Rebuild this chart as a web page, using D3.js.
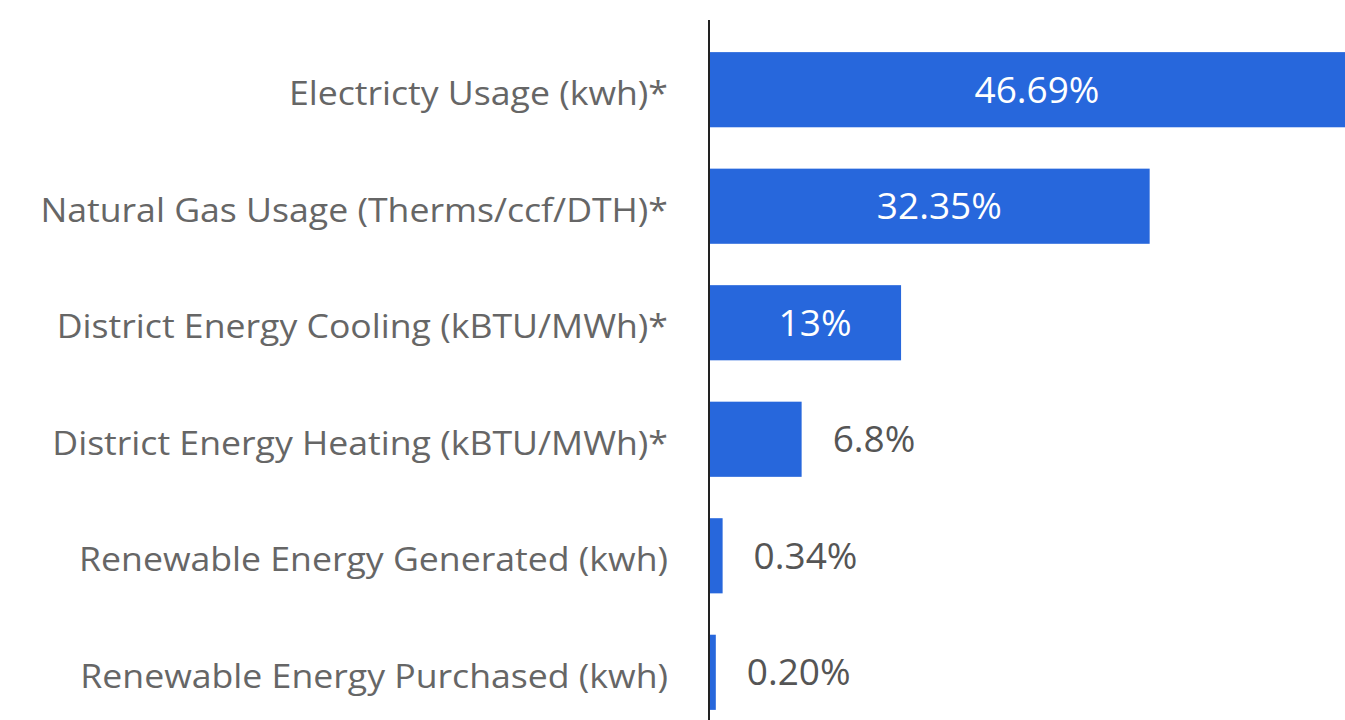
<!DOCTYPE html>
<html>
<head>
<meta charset="utf-8">
<script src="https://cdn.jsdelivr.net/npm/d3@7"></script>
<style>
	body { margin: 0; background: #fff; }
	svg { display: block; }
	.cat { font-family: "Open Sans", sans-serif; font-size: 33px; fill: #666; }
	.val { font-family: "Open Sans", sans-serif; font-size: 37px; }
</style>
</head>
<body>
<svg id="chart" width="1345" height="720"></svg>
<script>
// categories and shares
var categories = [
	"Electricty Usage (kwh)*",
	"Natural Gas Usage (Therms/ccf/DTH)*",
	"District Energy Cooling (kBTU/MWh)*",
	"District Energy Heating (kBTU/MWh)*",
	"Renewable Energy Generated (kwh)",
	"Renewable Energy Purchased (kwh)"
];
// bar lengths as drawn (the tiny ones are drawn wider than their share)
var barValues = [46.69, 32.35, 14.1, 6.8, 1.0, 0.5];
var valueLabels = ["46.69%", "32.35%", "13%", "6.8%", "0.34%", "0.20%"];
var insideBar = [true, true, true, false, false, false];

var svg = d3.select("#chart");
var plotLeft = 709, plotRight = 1345, firstBar = 52, lastBarEnd = 710;

var x = d3.scaleLinear().domain([0, 46.69]).range([plotLeft, plotRight]);
// inner gap between bars ~41px on a ~116px step
var y = d3.scaleBand().domain(categories)
	.range([firstBar - 20.5, lastBarEnd + 20.5])
	.paddingInner(0.355).paddingOuter(0.177);

var rows = svg.selectAll("g.row").data(categories).enter().append("g").attr("class", "row");

rows.append("rect")
	.attr("x", x(0))
	.attr("y", function(d) { return y(d); })
	.attr("width", function(d, i) { return x(barValues[i]) - x(0); })
	.attr("height", y.bandwidth())
	.attr("fill", "#2767dc");

// category labels are a little wide in the source, stretch them slightly
rows.append("text")
	.attr("class", "cat")
	.attr("transform", function(d) {
		return "translate(" + (plotLeft - 41) + "," + (y(d) + y.bandwidth() / 2) + ") scale(1.08,1)";
	})
	.attr("dy", "0.47em")
	.attr("text-anchor", "end")
	.text(function(d) { return d; });

rows.append("text")
	.attr("class", "val")
	.attr("x", function(d, i) {
		return insideBar[i] ? (x(0) + x(barValues[i])) / 2 + 10 : x(barValues[i]) + 31;
	})
	.attr("y", function(d) { return y(d) + y.bandwidth() / 2; })
	.attr("dy", "0.35em")
	.attr("text-anchor", function(d, i) { return insideBar[i] ? "middle" : "start"; })
	.attr("fill", function(d, i) { return insideBar[i] ? "#fff" : "#555"; })
	.text(function(d, i) { return valueLabels[i]; });

// axis line
svg.append("line")
	.attr("x1", plotLeft).attr("x2", plotLeft)
	.attr("y1", 20).attr("y2", 720)
	.attr("stroke", "#222")
	.attr("stroke-width", 2);
</script>
</body>
</html>
